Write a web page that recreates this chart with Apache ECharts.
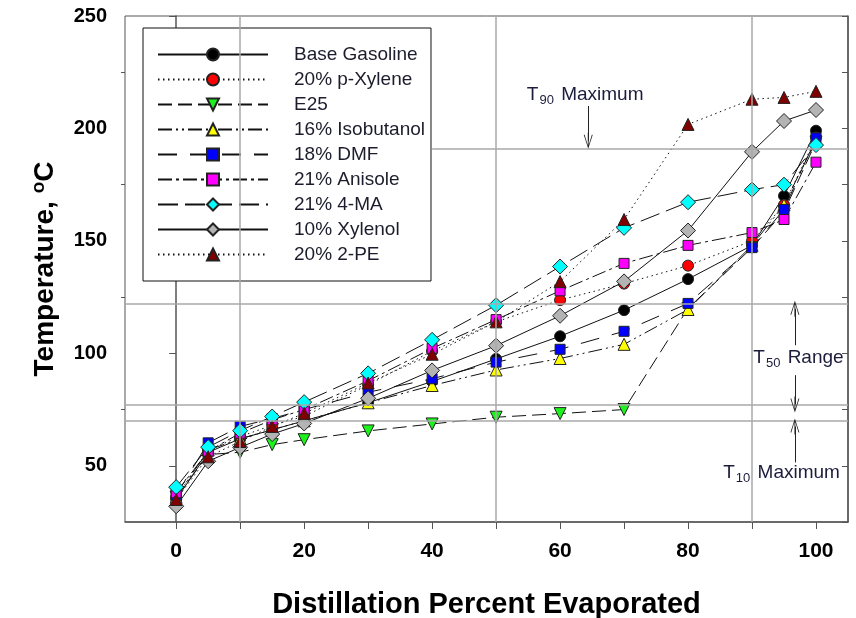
<!DOCTYPE html>
<html>
<head>
    <meta charset="utf-8">
    <script src="https://cdn.jsdelivr.net/npm/echarts@6/dist/echarts.min.js"></script>
</head>
<body style="margin:0;background:#fff;">
<div id="main" style="width: 856px;height:618px;"></div>
<script>
    // percent evaporated (shared x values)
    var pct = [0, 5, 10, 15, 20, 30, 40, 50, 60, 70, 80, 90, 95, 100];

    var baseGasoline = [35, 56, 62, 66, 70, 78, 87.5, 97.5, 107.6, 119.2, 133, 148, 170, 199];
    var pXylene      = [36, 57, 63, 68, 72, 86, 101, 114, 123.7, 131, 139, 150, 166, 196];
    var e25          = [36, 55, 56, 59.4, 61.6, 65.5, 68.6, 71.6, 73.2, 75, 120, 147, 163, 194];
    var isobutanol   = [36, 57, 62, 66, 70, 78, 85.7, 92.6, 97.7, 104, 119.5, 148, 166, 195];
    var dmf          = [37, 60.2, 67.5, 71, 75, 82.7, 88.7, 96.1, 101.8, 109.8, 122.2, 147, 164, 195.8];
    var anisole      = [38, 56.5, 64.5, 70.4, 75, 87.8, 102.2, 115, 127.8, 140, 148, 153.7, 159.5, 185];
    var ma4          = [40.5, 58.3, 65.6, 71.9, 78.3, 91.1, 106, 121.4, 138.6, 155.8, 167.2, 172.8, 175, 192.6];
    var xylenol      = [32, 52, 58.2, 64.1, 68.8, 80, 92.4, 103.4, 116.7, 132, 154.6, 189.6, 203.3, 208.2];
    var pe2          = [35, 54, 60.8, 67.5, 73.3, 86.8, 99.6, 114, 131.9, 159.5, 201.8, 213, 213.8, 216.5];

    // spec limits
    var t90Max = 191, t50Hi = 122, t50Lo = 77, t10Max = 70;
    var limitPct = [10, 50, 90];

    var xTicks = [0, 10, 20, 30, 40, 50, 60, 70, 80, 90, 100];
    var xLabels = [0, 20, 40, 60, 80, 100];
    var yLabels = [50, 100, 150, 200, 250];
    var yMinor = [75, 125, 175, 225];
    var yRight = [25, 50, 75, 100, 125, 150, 175, 200, 225, 250];

    var seriesDefs = [
        {name: 'Base Gasoline', data: baseGasoline, symbol: 'circle', size: 11, color: '#000000', dash: 'solid'},
        {name: '20% p-Xylene', data: pXylene, symbol: 'circle', size: 11, color: '#ff0000', dash: [1.5, 3.5]},
        {name: 'E25', data: e25, symbol: 'triangle', size: 12, color: '#1cf21c', dash: [14, 6], rotate: 180},
        {name: '16% Isobutanol', data: isobutanol, symbol: 'triangle', size: 12, color: '#ffff00', dash: [14, 4, 2, 4, 2, 4]},
        {name: '18% DMF', data: dmf, symbol: 'rect', size: 10, color: '#0000ff', dash: [19, 13]},
        {name: '21% Anisole', data: anisole, symbol: 'rect', size: 10, color: '#ff00ff', dash: [14, 4, 3, 4]},
        {name: '21% 4-MA', data: ma4, symbol: 'diamond', size: 15, color: '#00ffff', dash: [20, 7]},
        {name: '10% Xylenol', data: xylenol, symbol: 'diamond', size: 15, color: '#b4b4b4', dash: 'solid'},
        {name: '20% 2-PE', data: pe2, symbol: 'triangle', size: 12, color: '#800000', dash: [1.5, 3.5]}
    ];

    var annColor = '#1c1c3c';
    var rich = {
        t: {fontSize: 19, fontFamily: 'Liberation Sans, Arial', color: annColor},
        s: {fontSize: 13, fontFamily: 'Liberation Sans, Arial', color: annColor, padding: [11, 2, 0, 1]}
    };

    // open "V" arrow head with a stem
    var vHead = 'path://M5,0 L10,14 L9,14 L5.5,3.5 L5.5,16 L4.5,16 L4.5,3.5 L1,14 L0,14 Z';

    function arrow(x, y0, y1) {
        return [
            {coord: [x, y0], symbol: 'none'},
            {coord: [x, y1], symbol: vHead, symbolSize: [9, 16],
             lineStyle: {color: '#222', width: 1, type: 'solid'},
             itemStyle: {color: '#222'}}
        ];
    }

    var helper = {
        name: 'limits',
        type: 'line',
        data: [],
        z: 1,
        silent: true,
        markLine: {
            silent: true,
            symbol: 'none',
            label: {show: false},
            lineStyle: {color: '#a8a8a8', width: 1.5, type: 'solid'},
            data: limitPct.map(function (p) { return {xAxis: p}; }).concat([
                {yAxis: t50Hi}, {yAxis: t50Lo}, {yAxis: t10Max},
                [{coord: [40, t90Max]}, {coord: [105, t90Max]}],
                arrow(64.4, 210, 194.5),
                arrow(96.7, 103.6, 119.8),
                arrow(96.7, 90.3, 77.3),
                arrow(96.7, 51.5, 67.5)
            ])
        },
        markPoint: {
            silent: true,
            symbolSize: 0,
            label: {show: true, position: 'right', distance: 0, rich: rich},
            data: [
                {coord: [54.8, 215.0], label: {formatter: '{t|T}{s|90}{t| Maximum}'}},
                {coord: [90.2, 98.0], label: {formatter: '{t|T}{s|50}{t| Range}'}},
                {coord: [85.5, 46.7], label: {formatter: '{t|T}{s|10}{t| Maximum}'}}
            ]
        }
    };

    var series = [helper].concat(seriesDefs.map(function (d) {
        return {
            name: d.name,
            type: 'line',
            z: 3,
            data: pct.map(function (p, i) { return [p, d.data[i]]; }),
            symbol: d.symbol,
            symbolSize: d.size,
            symbolRotate: d.rotate || 0,
            showAllSymbol: true,
            itemStyle: {color: d.color, borderColor: '#222', borderWidth: 1},
            lineStyle: {color: '#111', width: 1, type: d.dash}
        };
    }));

    var myChart = echarts.init(document.getElementById('main'));
    var option = {
        animation: false,
        backgroundColor: '#fff',
        textStyle: {fontFamily: 'Liberation Sans, Arial'},
        grid: {left: 125, right: 8, top: 16, bottom: 96, show: true, borderColor: '#555', borderWidth: 1,
               containLabel: false, outerBoundsMode: 'none'},
        legend: {
            orient: 'vertical',
            left: 143,
            top: 28,
            data: seriesDefs.map(function (d) { return d.name; }),
            itemWidth: 110,
            itemHeight: 15,
            itemGap: 6,
            padding: [17, 6, 17, 14],
            backgroundColor: '#fff',
            borderColor: '#111',
            borderWidth: 1,
            borderRadius: 0,
            selectedMode: false,
            textStyle: {fontSize: 19, color: '#1c1c2c', padding: [0, 0, 0, 21], fontFamily: 'Liberation Sans, Arial'}
        },
        xAxis: {
            type: 'value',
            min: -8,
            max: 105,
            name: 'Distillation Percent Evaporated',
            nameLocation: 'middle',
            nameGap: 68,
            nameTextStyle: {fontSize: 29, fontWeight: 'bold', color: '#000'},
            axisLine: {lineStyle: {color: '#555', width: 1.5}},
            axisTick: {show: true, length: 7, customValues: xTicks, lineStyle: {color: '#555'}},
            axisLabel: {customValues: xLabels, fontSize: 21, fontWeight: 'bold', color: '#000', margin: 19},
            splitLine: {show: false}
        },
        yAxis: [{
            type: 'value',
            min: 25,
            max: 250,
            name: '{a|Temperature, }{sup|o}{a|C}',
            nameLocation: 'middle',
            nameGap: 64,
            nameRotate: 90,
            nameTextStyle: {
                rich: {
                    a: {fontSize: 28, fontWeight: 'bold', color: '#000'},
                    sup: {fontSize: 19, fontWeight: 'bold', color: '#000', padding: [0, 0, 13, 0]}
                }
            },
            axisLine: {show: true, lineStyle: {color: '#555', width: 1.5}},
            axisTick: {show: true, length: 7, customValues: yLabels, lineStyle: {color: '#555'}},
            axisLabel: {customValues: yLabels, fontSize: 20, fontWeight: 'bold', color: '#000', margin: 18},
            splitLine: {show: false}
        }, {
            type: 'value',
            position: 'right',
            min: 25,
            max: 250,
            axisLine: {show: true, lineStyle: {color: '#555', width: 1.5}},
            axisTick: {show: true, inside: true, length: 6, customValues: yRight, lineStyle: {color: '#555'}},
            axisLabel: {show: false},
            splitLine: {show: false}
        }, {
            type: 'value',
            position: 'left',
            min: 25,
            max: 250,
            axisLine: {show: false},
            axisTick: {show: true, length: 4, customValues: yMinor, lineStyle: {color: '#555'}},
            axisLabel: {show: false},
            splitLine: {show: false}
        }],
        series: series
    };
    myChart.setOption(option);
</script>
</body>
</html>
